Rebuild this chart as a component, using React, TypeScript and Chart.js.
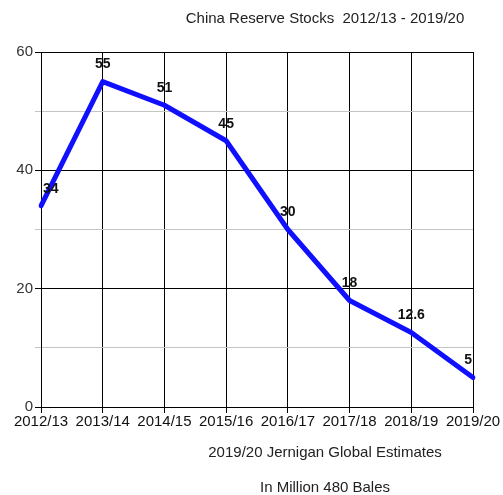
import React, { useEffect, useRef } from "react";
import { Chart, registerables } from "chart.js";

Chart.register(...registerables);

const categories = ["2012/13", "2013/14", "2014/15", "2015/16", "2016/17", "2017/18", "2018/19", "2019/20"];
const stocks = [34, 55, 51, 45, 30, 18, 12.6, 5];
const yMajorTicks = [0, 20, 40, 60];
const titleText = "China Reserve Stocks  2012/13 - 2019/20";
const footnote1 = "2019/20 Jernigan Global Estimates";
const footnote2 = "In Million 480 Bales";

const FONT = "'Liberation Sans', Arial, sans-serif";

const textPlugin = {
  id: "texts",
  afterDraw(chart: any) {
    const ctx = chart.ctx;
    ctx.save();
    ctx.fillStyle = "#222";
    ctx.font = `15px ${FONT}`;
    ctx.textAlign = "center";
    ctx.textBaseline = "middle";
    ctx.fillText(titleText, 325, 19);
    ctx.fillText(footnote1, 325, 453);
    ctx.fillText(footnote2, 325, 488);
    ctx.restore();
  },
  afterDatasetsDraw(chart: any) {
    const ctx = chart.ctx;
    const meta = chart.getDatasetMeta(0);
    const area = chart.chartArea;
    ctx.save();
    ctx.font = `bold 14px ${FONT}`;
    ctx.fillStyle = "#111";
    ctx.textBaseline = "middle";
    ctx.textAlign = "left";
    meta.data.forEach((pt: any, i: number) => {
      const label = String(stocks[i]);
      const w = ctx.measureText(label).width;
      let x = pt.x - w / 2;
      if (x < area.left + 2) x = area.left + 2;
      if (x + w > area.right - 1) x = area.right - 1 - w;
      ctx.fillText(label, x, pt.y - 17);
    });
    ctx.restore();
  },
};

export default function App() {
  const ref = useRef<HTMLCanvasElement>(null);
  useEffect(() => {
    if (!ref.current) return;
    const chart = new Chart(ref.current, {
      type: "line",
      data: {
        labels: categories,
        datasets: [
          {
            data: stocks,
            borderColor: "#1010ff",
            borderWidth: 5,
            pointRadius: 0,
            tension: 0,
            fill: false,
            borderJoinStyle: "round",
            borderCapStyle: "round",
          },
        ],
      },
      options: {
        responsive: false,
        animation: false,
        layout: { padding: { top: 52, right: 30, left: 0, bottom: 0 } },
        plugins: { legend: { display: false }, title: { display: false }, tooltip: { enabled: false } },
        scales: {
          x: {
            offset: false,
            grid: { color: "#000", lineWidth: 1, tickLength: 6, tickColor: "#000" },
            border: { color: "#000" },
            ticks: { color: "#111", font: { family: FONT, size: 15 }, maxRotation: 0, autoSkip: false, padding: 0 },
            afterFit(scale: any) {
              scale.height = 88;
            },
          },
          y: {
            min: 0,
            max: 60,
            ticks: {
              stepSize: 10,
              color: "#333",
              font: { family: FONT, size: 15 },
              padding: 2,
              callback: (v: any) => (yMajorTicks.includes(Number(v)) ? String(v) : ""),
            },
            grid: {
              color: (c: any) => (yMajorTicks.includes(c.tick?.value) ? "#000" : "#c4c4c4"),
              tickColor: (c: any) => (yMajorTicks.includes(c.tick?.value) ? "#000" : "#c4c4c4"),
              tickLength: 6,
              lineWidth: 1,
            },
            border: { color: "#000" },
            afterFit(scale: any) {
              scale.width = 41;
            },
          },
        },
      },
      plugins: [textPlugin],
    } as any);
    return () => chart.destroy();
  }, []);
  return (
    <div style={{ position: "fixed", left: 0, top: 0, width: 503, height: 495, background: "#fff" }}>
      <canvas ref={ref} width={503} height={495} style={{ width: 503, height: 495 }} />
    </div>
  );
}
